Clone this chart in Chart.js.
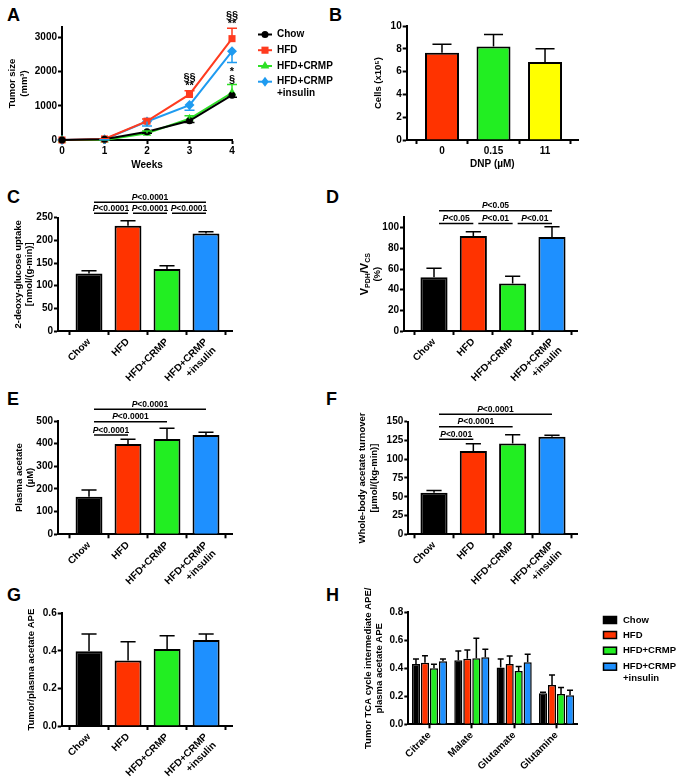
<!DOCTYPE html>
<html>
<head>
<meta charset="utf-8">
<script src="https://cdn.jsdelivr.net/npm/chart.js@4.4.1/dist/chart.umd.min.js"></script>
<style>
  body { margin: 0; background: #fff; width: 680px; height: 780px; position: relative; overflow: hidden; }
  canvas { position: absolute; }
  .panel { position: absolute; font: bold 18px 'Liberation Sans', Arial, sans-serif; line-height: 1; color: #000; }
</style>
</head>
<body>
<div class="panel" style="left:7px;top:6px">A</div>
<div class="panel" style="left:329px;top:6px">B</div>
<div class="panel" style="left:7px;top:188px">C</div>
<div class="panel" style="left:326px;top:188px">D</div>
<div class="panel" style="left:7px;top:390px">E</div>
<div class="panel" style="left:326px;top:390px">F</div>
<div class="panel" style="left:7px;top:586px">G</div>
<div class="panel" style="left:326px;top:586px">H</div>
<script>
// ---- data ----
var weeks = [0, 1, 2, 3, 4];
var chowSize = [0, 20, 240, 560, 1310];
var hfdSize = [0, 30, 550, 1330, 2960];
var crmpSize = [0, 0, 200, 620, 1380];
var insulinSize = [0, 20, 540, 1020, 2590];
var chowSizeErr = [0, 10, 40, 50, 60];
var hfdSizeErr = [0, 10, 60, 110, 300];
var crmpSizeErr = [0, 10, 60, 90, 240];
var insulinSizeErr = [0, 10, 130, 150, 330];
var sizeTicks = [0, 1000, 2000, 3000];

var dnpLabels = ['0', '0.15', '11'];
var cellCounts = [7.65, 8.2, 6.85];
var cellErr = [0.75, 1.05, 1.15];
var cellTicks = [0, 2, 4, 6, 8, 10];

var groups = ['Chow', 'HFD', 'HFD+CRMP', ['HFD+CRMP', '+insulin']];
var glucoseUptake = [127, 232, 137, 215];
var glucoseErr = [6, 11, 7, 4];
var glucoseTicks = [0, 50, 100, 150, 200, 250];

var pdhRatio = [52, 92, 46, 91];
var pdhErr = [8.7, 4, 7, 10];
var pdhTicks = [0, 20, 40, 60, 80, 100];

var plasmaAcetate = [166, 398, 421, 438];
var plasmaErr = [30, 21, 47, 12];
var plasmaTicks = [0, 100, 200, 300, 400, 500];

var acetateTurnover = [55.5, 111, 121, 130];
var turnoverErr = [3, 9.7, 11.6, 2];
var turnoverTicks = [0, 25, 50, 75, 100, 125, 150];

var apeRatio = [0.398, 0.349, 0.41, 0.458];
var apeErr = [0.092, 0.1, 0.071, 0.032];
var apeTicks = [0, 0.2, 0.4, 0.6];

var metabolites = ['Citrate', 'Malate', 'Glutamate', 'Glutamine'];
var chowTca = [0.431, 0.457, 0.405, 0.221];
var hfdTca = [0.44, 0.469, 0.431, 0.281];
var crmpTca = [0.40, 0.471, 0.381, 0.217];
var insulinTca = [0.45, 0.479, 0.443, 0.207];
var chowTcaErr = [0.036, 0.067, 0.062, 0.008];
var hfdTcaErr = [0.05, 0.062, 0.057, 0.071];
var crmpTcaErr = [0.029, 0.143, 0.031, 0.045];
var insulinTcaErr = [0.017, 0.057, 0.057, 0.036];
var tcaTicks = [0, 0.2, 0.4, 0.6, 0.8];

// significance brackets: [from group, to group, p text, height in data units]
var bracketsC = [[0, 1, '<0.0001', 260], [1, 2, '<0.0001', 260], [2, 3, '<0.0001', 260], [0, 3, '<0.0001', 284]];
var bracketsD = [[0, 1, '<0.05', 104], [1, 2, '<0.01', 104], [2, 3, '<0.01', 104], [0, 3, '<0.05', 116.4]];
var bracketsE = [[0, 1, '<0.0001', 438], [0, 2, '<0.0001', 497], [0, 3, '<0.0001', 552]];
var bracketsF = [[0, 1, '<0.001', 126.5], [0, 2, '<0.0001', 143.3], [0, 3, '<0.0001', 160]];
var sigMarksA = [
    { week: 3, series: 1, text: ['§§', '**'] },
    { week: 4, series: 1, text: ['§§', '**'] },
    { week: 4, series: 2, text: ['*', '§'] }
];

var seriesNames = ['Chow', 'HFD', 'HFD+CRMP', ['HFD+CRMP', '+insulin']];
var barColors = ['#000000', '#ff3300', '#22ee22', '#1e90ff'];
var lineColors = ['#000000', '#ff3b1f', '#2ee026', '#1f9bf0'];
var FONT = "'Liberation Sans', Arial, sans-serif";

Chart.defaults.font.family = FONT;
Chart.defaults.font.size = 10;
Chart.defaults.font.weight = 'bold';
Chart.defaults.color = '#000';
Chart.defaults.animation = false;
Chart.defaults.responsive = false;
Chart.defaults.plugins.legend.display = false;
Chart.defaults.plugins.tooltip.enabled = false;

function makeCanvas(box) {
    var c = document.createElement('canvas');
    c.width = box.width;
    c.height = box.height;
    c.style.left = box.left + 'px';
    c.style.top = box.top + 'px';
    document.body.appendChild(c);
    return c;
}

// fix the plot area of a chart inside its canvas
function frame(box, area) {
    return {
        padding: { left: 0, top: area.top - box.top, right: box.left + box.width - area.right, bottom: 0 },
        yWidth: area.left - box.left,
        xHeight: box.top + box.height - area.bottom
    };
}

function axisLook() {
    return {
        grid: { display: true, drawOnChartArea: false, drawTicks: true, tickLength: 4, tickWidth: 2, tickColor: '#000' },
        border: { display: true, color: '#000', width: 2 }
    };
}

function yAxis(f, max, ticks, title, titleX, fmt) {
    var look = axisLook();
    return {
        type: 'linear', min: 0, max: max, bounds: 'data',
        afterFit: function(s) { s.width = f.yWidth; },
        afterBuildTicks: function(s) { s.ticks = ticks.map(function(v) { return { value: v }; }); },
        ticks: { padding: 1, callback: fmt || function(v) { return String(v); } },
        grid: look.grid, border: look.border,
        title: title ? {
            display: true, text: title, color: '#000',
            font: { size: 9.5, weight: 'bold', lineHeight: 1.2 },
            padding: { top: titleX - 5.7, bottom: 0 }
        } : { display: false }
    };
}

function rotatedX(f, labels, min, max) {
    var look = axisLook();
    return {
        type: 'linear', min: min, max: max, bounds: 'data', offset: false,
        afterFit: function(s) { s.height = f.xHeight; },
        afterBuildTicks: function(s) { s.ticks = labels.map(function(l, i) { return { value: i }; }); },
        ticks: { padding: 1, minRotation: 45, maxRotation: 45, autoSkip: false, font: { size: 10 },
            callback: function(v) { return labels[v]; } },
        grid: look.grid, border: look.border
    };
}

var errorBars = {
    id: 'errorBars',
    afterDatasetsDraw: function(chart) {
        var ctx = chart.ctx;
        var yScale = chart.scales.y;
        chart.data.datasets.forEach(function(ds, i) {
            if (!ds.errors) return;
            var meta = chart.getDatasetMeta(i);
            ctx.save();
            ctx.strokeStyle = ds.errorColor || '#000';
            ctx.lineWidth = 1.5;
            meta.data.forEach(function(el, j) {
                var e = ds.errors[j];
                if (!e) return;
                var raw = ds.data[j];
                var v = typeof raw === 'object' ? raw.y : raw;
                var dir = ds.errorDir || 1;
                var yEnd = yScale.getPixelForValue(v + dir * e);
                var yStart = yScale.getPixelForValue(v);
                var half = el.width ? Math.max(el.width * 0.28, 3) : 5;
                ctx.beginPath();
                ctx.moveTo(el.x, yStart);
                ctx.lineTo(el.x, yEnd);
                ctx.moveTo(el.x - half, yEnd);
                ctx.lineTo(el.x + half, yEnd);
                ctx.stroke();
            });
            ctx.restore();
        });
    }
};

function pText(ctx, rest, cx, baseY) {
    var italic = 'italic bold 8.5px ' + FONT, plain = 'bold 8.5px ' + FONT;
    ctx.font = italic;
    var wp = ctx.measureText('P').width;
    ctx.font = plain;
    var wr = ctx.measureText(rest).width;
    var x = cx - (wp + wr) / 2;
    ctx.textAlign = 'left';
    ctx.textBaseline = 'alphabetic';
    ctx.fillStyle = '#000';
    ctx.font = italic;
    ctx.fillText('P', x, baseY);
    ctx.font = plain;
    ctx.fillText(rest, x + wp, baseY);
}

function bracketPlugin(items) {
    return {
        id: 'brackets',
        afterDraw: function(chart) {
            var ctx = chart.ctx, xs = chart.scales.x, ys = chart.scales.y;
            ctx.save();
            items.forEach(function(b) {
                var x0 = xs.getPixelForValue(b[0]) + 5;
                var x1 = xs.getPixelForValue(b[1]);
                var y = ys.getPixelForValue(b[3]);
                ctx.strokeStyle = '#000';
                ctx.lineWidth = 1.5;
                ctx.beginPath();
                ctx.moveTo(x0, y);
                ctx.lineTo(x1, y);
                ctx.stroke();
                pText(ctx, b[2], (x0 + x1) / 2, y - 2.5);
            });
            ctx.restore();
        }
    };
}

function barPanel(box, area, cfg) {
    var f = frame(box, area);
    var plugins = [errorBars];
    if (cfg.brackets) plugins.push(bracketPlugin(cfg.brackets));
    if (cfg.extra) plugins.push(cfg.extra);
    var xAxis;
    if (cfg.rotate) {
        xAxis = rotatedX(f, cfg.labels, cfg.xmin, cfg.xmax);
    } else {
        var look = axisLook();
        xAxis = {
            type: 'linear', min: cfg.xmin, max: cfg.xmax, bounds: 'data', offset: false,
            afterFit: function(s) { s.height = f.xHeight; },
            afterBuildTicks: function(s) { s.ticks = cfg.labels.map(function(l, i) { return { value: i }; }); },
            ticks: { padding: 1, maxRotation: 0, autoSkip: false, callback: function(v) { return cfg.labels[v]; } },
            grid: look.grid, border: look.border,
            title: { display: true, text: cfg.xTitle, font: { size: 10, weight: 'bold', lineHeight: 1.2 }, padding: { top: 0, bottom: cfg.xTitlePad } }
        };
    }
    return new Chart(makeCanvas(box), {
        type: 'bar',
        data: {
            datasets: [{
                data: cfg.values.map(function(v, i) { return { x: i, y: v }; }),
                backgroundColor: cfg.colors,
                borderColor: '#000',
                borderWidth: 2,
                barPercentage: cfg.barPct,
                categoryPercentage: 1,
                errors: cfg.errors
            }]
        },
        options: {
            layout: { padding: f.padding },
            scales: {
                x: xAxis,
                y: yAxis(f, cfg.ymax, cfg.yticks, cfg.yTitle, cfg.yTitleX, cfg.fmt)
            }
        },
        plugins: plugins
    });
}

// small marker shapes for the legend of A
function marker(ctx, style, x, y, r, color) {
    ctx.fillStyle = color;
    ctx.beginPath();
    if (style === 'circle') {
        ctx.arc(x, y, r, 0, Math.PI * 2);
    } else if (style === 'rect') {
        ctx.rect(x - r * 0.71, y - r * 0.71, r * 1.42, r * 1.42);
    } else if (style === 'triangle') {
        ctx.moveTo(x, y - r);
        ctx.lineTo(x + r * 0.87, y + r * 0.5);
        ctx.lineTo(x - r * 0.87, y + r * 0.5);
    } else {
        ctx.moveTo(x, y - r);
        ctx.lineTo(x + r * 0.75, y);
        ctx.lineTo(x, y + r);
        ctx.lineTo(x - r * 0.75, y);
    }
    ctx.closePath();
    ctx.fill();
}

// ---- A: tumor growth ----
(function() {
    var box = { left: 0, top: 0, width: 340, height: 175 };
    var area = { left: 62, right: 232, top: 27, bottom: 140 };
    var f = frame(box, area);
    var styles = ['circle', 'rect', 'triangle', 'rectRot'];
    var radii = [3.5, 5, 5, 5];
    var dirs = [-1, 1, 1, -1];
    var sizes = [chowSize, hfdSize, crmpSize, insulinSize];
    var errs = [chowSizeErr, hfdSizeErr, crmpSizeErr, insulinSizeErr];
    var datasets = sizes.map(function(vals, k) {
        return {
            label: String(seriesNames[k]),
            data: weeks.map(function(w, i) { return { x: w, y: vals[i] }; }),
            borderColor: lineColors[k],
            backgroundColor: lineColors[k],
            pointBackgroundColor: lineColors[k],
            pointBorderColor: lineColors[k],
            pointStyle: styles[k],
            pointRadius: radii[k],
            pointBorderWidth: 0,
            borderWidth: 2,
            tension: 0,
            clip: false,
            errors: errs[k],
            errorColor: lineColors[k],
            errorDir: dirs[k]
        };
    });
    var legendA = {
        id: 'legendA',
        afterDraw: function(chart) {
            var ctx = chart.ctx;
            var ys = [34.5, 50.2, 66, 81.7];
            ctx.save();
            seriesNames.forEach(function(name, k) {
                ctx.strokeStyle = lineColors[k];
                ctx.lineWidth = 2;
                ctx.beginPath();
                ctx.moveTo(258, ys[k]);
                ctx.lineTo(272, ys[k]);
                ctx.stroke();
                marker(ctx, styles[k], 265, ys[k], radii[k], lineColors[k]);
                ctx.fillStyle = '#000';
                ctx.font = 'bold 10px ' + FONT;
                ctx.textAlign = 'left';
                ctx.textBaseline = 'middle';
                var lines = [].concat(name);
                lines.forEach(function(t, li) { ctx.fillText(t, 277, ys[k] + li * 12); });
            });
            ctx.restore();
        }
    };
    var sigA = {
        id: 'sigA',
        afterDraw: function(chart) {
            var ctx = chart.ctx, xs = chart.scales.x, ysc = chart.scales.y;
            ctx.save();
            ctx.font = 'bold 11px ' + FONT;
            ctx.textAlign = 'center';
            ctx.textBaseline = 'middle';
            ctx.fillStyle = '#000';
            sigMarksA.forEach(function(m) {
                var i = weeks.indexOf(m.week);
                var top = ysc.getPixelForValue(sizes[m.series][i] + errs[m.series][i]);
                var x = xs.getPixelForValue(m.week);
                var n = m.text.length;
                m.text.forEach(function(t, li) {
                    ctx.fillText(t, x, top - 4.5 - (n - 1 - li) * 8);
                });
            });
            ctx.restore();
        }
    };
    var look = axisLook();
    new Chart(makeCanvas(box), {
        type: 'line',
        data: { datasets: datasets },
        options: {
            layout: { padding: f.padding },
            scales: {
                x: {
                    type: 'linear', min: 0, max: 4, bounds: 'data',
                    afterFit: function(s) { s.height = f.xHeight; },
                    afterBuildTicks: function(s) { s.ticks = weeks.map(function(w) { return { value: w }; }); },
                    ticks: { padding: 1, callback: function(v) { return String(v); } },
                    grid: look.grid, border: look.border,
                    title: { display: true, text: 'Weeks', font: { size: 10, weight: 'bold', lineHeight: 1.2 }, padding: { top: 0, bottom: 4 } }
                },
                y: yAxis(f, 3300, sizeTicks, ['Tumor size', '(mm³)'], 12.5)
            }
        },
        plugins: [errorBars, legendA, sigA]
    });
})();

// ---- B: cell counts ----
barPanel({ left: 340, top: 0, width: 340, height: 175 }, { left: 406.7, right: 578, top: 26, bottom: 140 }, {
    values: cellCounts, errors: cellErr, labels: dnpLabels,
    colors: ['#ff3300', '#22ee22', '#ffff00'],
    xmin: -0.685, xmax: 2.64, barPct: 0.66,
    ymax: 10, yticks: cellTicks, yTitle: 'Cells (x10⁵)', yTitleX: 38.3,
    xTitle: 'DNP (µM)', xTitlePad: 5
});

// ---- C: 2-deoxy-glucose uptake ----
barPanel({ left: 0, top: 178, width: 340, height: 207 }, { left: 58, right: 232, top: 217.7, bottom: 331 }, {
    values: glucoseUptake, errors: glucoseErr, labels: groups, colors: barColors, rotate: true,
    xmin: -0.795, xmax: 3.667, barPct: 0.69,
    ymax: 250, yticks: glucoseTicks, yTitle: ['2-deoxy-glucose uptake', '[nmol/(g-min)]'], yTitleX: 18,
    brackets: bracketsC
});

// ---- D: VPDH/VCS ----
var pdhTitle = {
    id: 'pdhTitle',
    afterDraw: function(chart) {
        var ctx = chart.ctx, a = chart.chartArea;
        var cy = (a.top + a.bottom) / 2;
        var parts = [['V', 11, 0], ['PDH', 7, 3], ['/V', 11, 0], ['CS', 7, 3]];
        ctx.save();
        ctx.fillStyle = '#000';
        ctx.textBaseline = 'middle';
        ctx.textAlign = 'left';
        var total = 0;
        parts.forEach(function(p) { ctx.font = 'bold ' + p[1] + 'px ' + FONT; p.push(ctx.measureText(p[0]).width); total += p[3]; });
        ctx.translate(25, cy);
        ctx.rotate(-Math.PI / 2);
        var x = -total / 2;
        parts.forEach(function(p) {
            ctx.font = 'bold ' + p[1] + 'px ' + FONT;
            ctx.fillText(p[0], x, p[2]);
            x += p[3];
        });
        ctx.font = 'bold 9.5px ' + FONT;
        ctx.textAlign = 'center';
        ctx.fillText('(%)', 0, 12);
        ctx.restore();
    }
};
barPanel({ left: 340, top: 178, width: 340, height: 207 }, { left: 404, right: 577.7, top: 217.4, bottom: 331 }, {
    values: pdhRatio, errors: pdhErr, labels: groups, colors: barColors, rotate: true,
    xmin: -0.763, xmax: 3.654, barPct: 0.69,
    ymax: 110, yticks: pdhTicks, yTitle: null,
    brackets: bracketsD, extra: pdhTitle
});

// ---- E: plasma acetate ----
barPanel({ left: 0, top: 385, width: 340, height: 200 }, { left: 58, right: 232, top: 421, bottom: 534.3 }, {
    values: plasmaAcetate, errors: plasmaErr, labels: groups, colors: barColors, rotate: true,
    xmin: -0.795, xmax: 3.667, barPct: 0.69,
    ymax: 500, yticks: plasmaTicks, yTitle: ['Plasma acetate', '(µM)'], yTitleX: 19,
    brackets: bracketsE
});

// ---- F: whole-body acetate turnover ----
barPanel({ left: 340, top: 385, width: 340, height: 200 }, { left: 408.3, right: 577.7, top: 421.7, bottom: 534.3 }, {
    values: acetateTurnover, errors: turnoverErr, labels: groups, colors: barColors, rotate: true,
    xmin: -0.654, xmax: 3.654, barPct: 0.69,
    ymax: 150, yticks: turnoverTicks, yTitle: ['Whole-body acetate turnover', '[µmol/(kg-min)]'], yTitleX: 22.5,
    brackets: bracketsF
});

// ---- G: tumor/plasma acetate APE ----
barPanel({ left: 0, top: 585, width: 340, height: 195 }, { left: 61.7, right: 232.3, top: 613.3, bottom: 726 }, {
    values: apeRatio, errors: apeErr, labels: groups, colors: barColors, rotate: true,
    xmin: -0.7, xmax: 3.67, barPct: 0.69,
    ymax: 0.6, yticks: apeTicks, yTitle: 'Tumor/plasma acetate APE', yTitleX: 31.7,
    fmt: function(v) { return v.toFixed(1); }
});

// ---- H: TCA intermediates ----
(function() {
    var box = { left: 340, top: 585, width: 340, height: 195 };
    var area = { left: 408.3, right: 577.7, top: 612.3, bottom: 724.3 };
    var f = frame(box, area);
    var vals = [chowTca, hfdTca, crmpTca, insulinTca];
    var errs = [chowTcaErr, hfdTcaErr, crmpTcaErr, insulinTcaErr];
    var look = axisLook();
    var legendH = {
        id: 'legendH',
        afterDraw: function(chart) {
            var ctx = chart.ctx;
            var ys = [35, 50, 65.7, 81.7];
            ctx.save();
            seriesNames.forEach(function(name, k) {
                ctx.fillStyle = barColors[k];
                ctx.fillRect(263.5, ys[k] - 3.5, 13, 7);
                ctx.strokeStyle = '#000';
                ctx.lineWidth = 1.5;
                ctx.strokeRect(263.5, ys[k] - 3.5, 13, 7);
                ctx.fillStyle = '#000';
                ctx.font = 'bold 9.5px ' + FONT;
                ctx.textAlign = 'left';
                ctx.textBaseline = 'middle';
                [].concat(name).forEach(function(t, li) { ctx.fillText(t, 283, ys[k] + li * 11.5); });
            });
            ctx.restore();
        }
    };
    new Chart(makeCanvas(box), {
        type: 'bar',
        data: {
            labels: metabolites,
            datasets: vals.map(function(v, k) {
                return {
                    label: String(seriesNames[k]), data: v, errors: errs[k],
                    backgroundColor: barColors[k], borderColor: '#000', borderWidth: 1.5,
                    barPercentage: 0.9, categoryPercentage: 0.85
                };
            })
        },
        options: {
            layout: { padding: f.padding },
            scales: {
                x: {
                    type: 'category', offset: true,
                    afterFit: function(s) { s.height = f.xHeight; },
                    ticks: { padding: 1, minRotation: 45, maxRotation: 45, autoSkip: false, font: { size: 10 } },
                    grid: Object.assign({}, look.grid, { offset: false }), border: look.border
                },
                y: yAxis(f, 0.8, tcaTicks, ['Tumor TCA cycle intermediate APE/', 'plasma acetate APE'], 28,
                    function(v) { return v.toFixed(1); })
            }
        },
        plugins: [errorBars, legendH]
    });
})();
</script>
</body>
</html>
